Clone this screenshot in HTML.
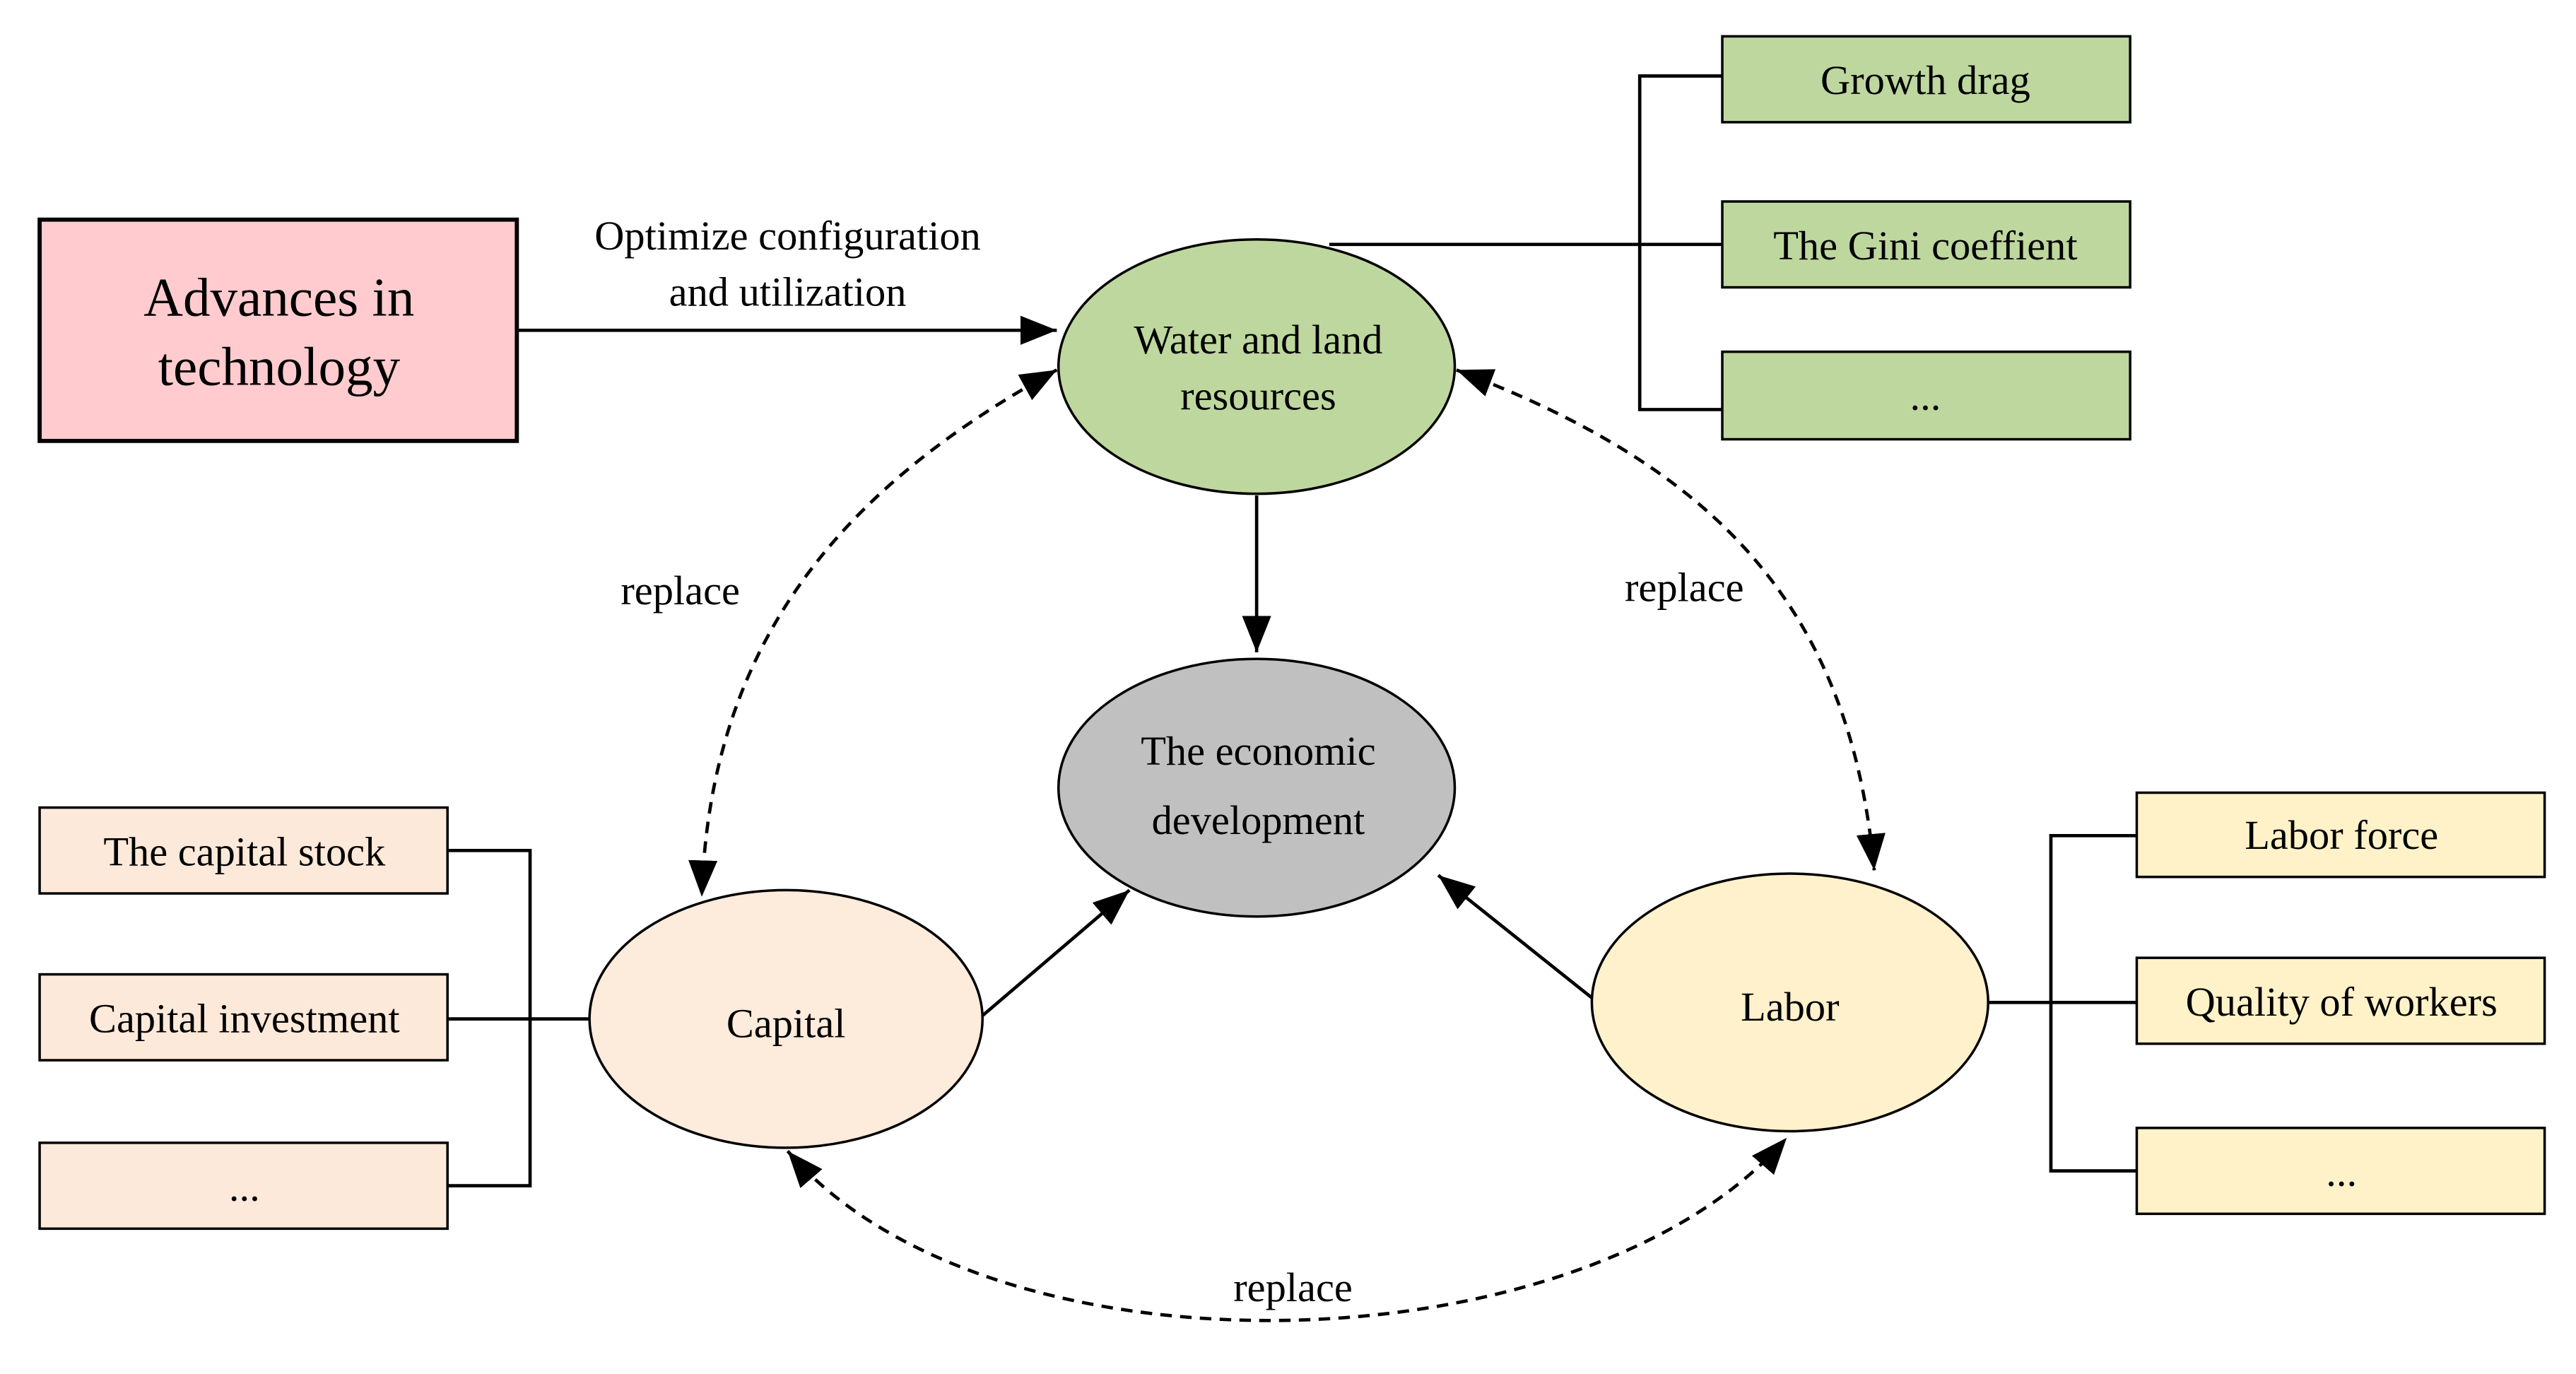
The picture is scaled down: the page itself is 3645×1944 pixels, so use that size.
<!DOCTYPE html>
<html><head><style>html,body{margin:0;padding:0;background:#fff}svg{display:block}</style></head><body>
<svg width="3645" height="1944" viewBox="0 0 1560 832" preserveAspectRatio="none" xmlns="http://www.w3.org/2000/svg" font-family="'Liberation Serif', serif" fill="#000">
<defs>
<marker id="a" markerWidth="10" markerHeight="10" refX="9" refY="5" orient="auto-start-reverse" markerUnits="userSpaceOnUse" viewBox="0 0 10 10"><path d="M0,0 L10,5 L0,10 z"/></marker>
<marker id="b" markerWidth="22" markerHeight="22" refX="20" refY="10" orient="auto-start-reverse" markerUnits="userSpaceOnUse" viewBox="0 0 20 20"><path d="M0,2 L20,10 L0,18 z"/></marker>
</defs>
<g stroke="#000" stroke-width="2" fill="none">
<!-- green bracket -->
<polyline points="1043,46 993,46 993,248 1043,248"/>
<line x1="805" y1="148" x2="1043" y2="148"/>
<!-- capital bracket -->
<polyline points="271,515 321,515 321,718 271,718"/>
<line x1="271" y1="617" x2="357" y2="617"/>
<!-- labor bracket -->
<polyline points="1294,506 1242,506 1242,709 1294,709"/>
<line x1="1203" y1="607" x2="1294" y2="607"/>
<!-- arrows -->
<line x1="313" y1="200" x2="640" y2="200" marker-end="url(#b)"/>
<line x1="761" y1="300" x2="761" y2="395" marker-end="url(#b)"/>
<line x1="595" y1="615" x2="684" y2="539" marker-end="url(#b)"/>
<line x1="965" y1="605" x2="871" y2="530" marker-end="url(#b)"/>
<!-- dashed -->
<path d="M640,224 C520,290 430,380 425,543" stroke-dasharray="7,5" marker-start="url(#b)" marker-end="url(#b)"/>
<path d="M882,224 C1030,280 1120,360 1135,527" stroke-dasharray="7,5" marker-start="url(#b)" marker-end="url(#b)"/>
<path d="M477,697 C600,840 960,830 1082,689" stroke-dasharray="7,5" marker-start="url(#b)" marker-end="url(#b)"/>
</g>
<g stroke="#000" stroke-width="1.5">
<rect x="24" y="133" width="289" height="134" fill="#ffcbcf" stroke-width="2.5"/>
<rect x="1043" y="22" width="247" height="52" fill="#bed79e"/>
<rect x="1043" y="122" width="247" height="52" fill="#bed79e"/>
<rect x="1043" y="213" width="247" height="53" fill="#bed79e"/>
<rect x="24" y="489" width="247" height="52" fill="#fde9da"/>
<rect x="24" y="590" width="247" height="52" fill="#fde9da"/>
<rect x="24" y="692" width="247" height="52" fill="#fde9da"/>
<rect x="1294" y="480" width="247" height="51" fill="#fff2c9"/>
<rect x="1294" y="580" width="247" height="52" fill="#fff2c9"/>
<rect x="1294" y="683" width="247" height="52" fill="#fff2c9"/>
<ellipse cx="761" cy="222" rx="120" ry="77" fill="#bed79e"/>
<ellipse cx="761" cy="477" rx="120" ry="78" fill="#c0c0c0"/>
<ellipse cx="476" cy="617" rx="119" ry="78" fill="#fdebdc"/>
<ellipse cx="1084" cy="607" rx="120" ry="78" fill="#fff1cb"/>
</g>
<g text-anchor="middle" font-size="25">
<text x="169" y="191" font-size="33">Advances in</text>
<text x="169" y="233" font-size="33">technology</text>
<text x="477" y="151">Optimize configuration</text>
<text x="477" y="185">and utilization</text>
<text x="762" y="214">Water and land</text>
<text x="762" y="248">resources</text>
<text x="762" y="463">The economic</text>
<text x="762" y="505">development</text>
<text x="476" y="628">Capital</text>
<text x="1084" y="618">Labor</text>
<text x="1166" y="57">Growth drag</text>
<text x="1166" y="157">The Gini coeffient</text>
<text x="1166" y="248">...</text>
<text x="148" y="524">The capital stock</text>
<text x="148" y="625">Capital investment</text>
<text x="148" y="727">...</text>
<text x="1418" y="514">Labor force</text>
<text x="1418" y="615">Quality of workers</text>
<text x="1418" y="718">...</text>
<text x="412" y="366">replace</text>
<text x="1020" y="364">replace</text>
<text x="783" y="788">replace</text>
</g>
</svg>
</body></html>
